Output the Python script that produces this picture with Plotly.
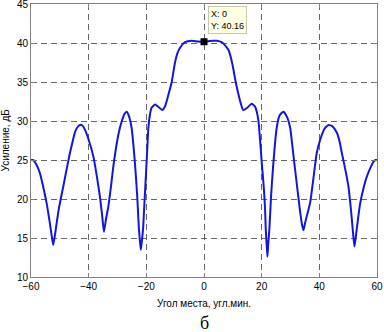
import plotly.graph_objects as go

angle = [-60, -59.3, -58.1, -56.9, -55.8, -54.6, -53.5, -52.9, -52.3, -51.6, -50.6, -49.7, -48.8,
         -47.6, -46.5, -45.6, -44.8, -43.9, -43.0, -42.1, -41.3, -40.0, -38.4, -37.2, -36.1, -35.3,
         -34.7, -34.0, -33.2, -32.3, -31.4, -30.5, -29.5, -28.5, -27.6, -26.8, -26.0, -25.1, -24.5,
         -24.0, -23.6, -23.2, -22.9, -22.6, -22.2, -21.9, -21.5, -21.1, -20.8, -20.5, -20.2, -19.9,
         -19.6, -19.3, -18.8, -18.2, -17.0, -15.8, -14.5, -13.5, -12.4, -11.2, -10.1, -9.2, -8.3,
         -6.6, -4.3, -2.2, -1.0, 0.0,
         1.0, 2.0, 3.2, 4.5, 6.1, 7.3, 8.5, 9.4, 10.2, 11.0, 11.9, 12.8, 13.6, 15.0, 16.5, 17.6,
         18.3, 18.9, 19.5, 20.0, 20.5, 20.9, 21.2, 21.4, 21.7, 22.0, 22.3, 22.7, 23.0, 23.3, 23.7,
         24.1, 24.6, 25.2, 26.2, 27.5, 28.7, 29.9, 30.5, 31.2, 32.0, 32.7, 33.4, 34.0, 34.5, 35.1,
         36.0, 36.8, 38.0, 39.1, 40.3, 41.8, 43.2, 44.6, 46.1, 47.0, 47.8, 49.0, 50.1, 51.0, 51.7,
         52.2, 52.8, 53.5, 54.2, 55.4, 56.5, 57.7, 58.8, 59.5, 60.0]
gain = [25.0, 25.0, 24.4, 23.3, 21.6, 19.5, 17.0, 15.5, 14.1, 15.6, 18.2, 20.0, 21.6,
        23.9, 25.9, 27.3, 28.5, 29.2, 29.5, 29.4, 28.9, 27.6, 25.5, 23.0, 20.3, 17.8,
        15.8, 17.4, 19.0, 21.5, 24.3, 26.6, 28.6, 30.0, 30.9, 31.2, 30.6, 29.1, 27.0,
        24.8, 22.8, 20.6, 18.5, 16.3, 14.5, 13.5, 14.8, 16.3, 18.5, 20.6, 22.7, 24.8,
        27.0, 29.1, 30.7, 31.7, 32.1, 31.8, 31.4, 31.9, 33.3, 35.0, 37.4, 38.7, 39.4,
        40.1, 40.3, 40.2, 40.15, 40.16,
        40.18, 40.25, 40.3, 40.28, 40.1, 39.7, 39.1, 38.0, 36.6, 35.0, 33.5, 32.2, 31.4, 31.7, 32.2, 31.9,
        31.2, 29.95, 27.3, 24.8, 22.6, 20.6, 18.5, 16.3, 14.3, 12.6, 14.3, 16.3, 18.5, 20.6, 22.8,
        24.8, 27.0, 29.1, 30.7, 31.2, 30.6, 29.1, 27.3, 25.0, 22.5, 20.3, 18.2, 16.7, 16.0, 17.0,
        18.3, 19.5, 22.8, 25.9, 27.6, 29.0, 29.5, 29.3, 28.5, 27.4, 25.9, 23.8, 21.6, 18.5, 15.6,
        13.9, 15.6, 17.7, 19.5, 21.5, 22.9, 24.0, 24.8, 25.0, 25.0]

x_ticks = [-60, -40, -20, 0, 20, 40, 60]
y_ticks = [10, 15, 20, 25, 30, 35, 40, 45]
tip_x = [0]
tip_y = [40.16]

x_title = "Угол места, угл.мин."
y_title = "Усиление, дБ"
caption = "б"

fig = go.Figure()
fig.add_trace(go.Scatter(x=angle, y=gain, mode="lines",
                         line=dict(color="rgb(20,20,225)", width=2, shape="spline", smoothing=0.5),
                         hoverinfo="skip"))
fig.add_trace(go.Scatter(x=tip_x, y=tip_y, mode="markers",
                         marker=dict(symbol="square", size=7, color="black"), hoverinfo="skip"))

grid = dict(showgrid=True, gridcolor="#666666", griddash="6px,4px", gridwidth=1,
            showline=True, linecolor="#808080", linewidth=1, mirror="ticks",
            ticks="inside", ticklen=4, tickcolor="#808080", zeroline=False, automargin=False,
            ticklabeloverflow="allow",
            tickfont=dict(family="Liberation Sans, Arial", size=10, color="black"))

fig.update_xaxes(range=[-60, 60], tickvals=x_ticks, **grid)
fig.update_yaxes(range=[10, 45], tickvals=y_ticks, **grid)

fig.add_annotation(x=tip_x[0], y=tip_y[0], xref="x", yref="y",
                   text=f"X: {tip_x[0]}<br>Y: {tip_y[0]}", showarrow=False,
                   xanchor="left", yanchor="bottom", xshift=4, yshift=8, align="left",
                   font=dict(family="Liberation Sans, Arial", size=9, color="black"),
                   bgcolor="#FFFFE1", bordercolor="#C8C8B0", borderwidth=1, borderpad=2)
fig.add_annotation(x=0.5, y=0, xref="paper", yref="paper", text=x_title, showarrow=False,
                   xanchor="center", yanchor="middle", yshift=-26,
                   font=dict(family="Liberation Sans, Arial", size=10, color="black"))
fig.add_annotation(x=0.5, y=0, xref="paper", yref="paper", text=caption, showarrow=False,
                   xanchor="center", yanchor="middle", yshift=-46,
                   font=dict(family="Liberation Serif, Times New Roman", size=18, color="black"))
fig.add_annotation(x=0, y=0.5, xref="paper", yref="paper", text=y_title, showarrow=False,
                   xanchor="center", yanchor="middle", xshift=-26, textangle=-90,
                   font=dict(family="Liberation Sans, Arial", size=10, color="black"))

fig.update_layout(width=384, height=332, margin=dict(l=31, r=7, t=4, b=55),
                  paper_bgcolor="white", plot_bgcolor="white", showlegend=False)
fig.write_html("out.html", include_plotlyjs=True, config={"displayModeBar": False},
               post_script="document.body.style.margin='0';document.body.style.padding='0';")
